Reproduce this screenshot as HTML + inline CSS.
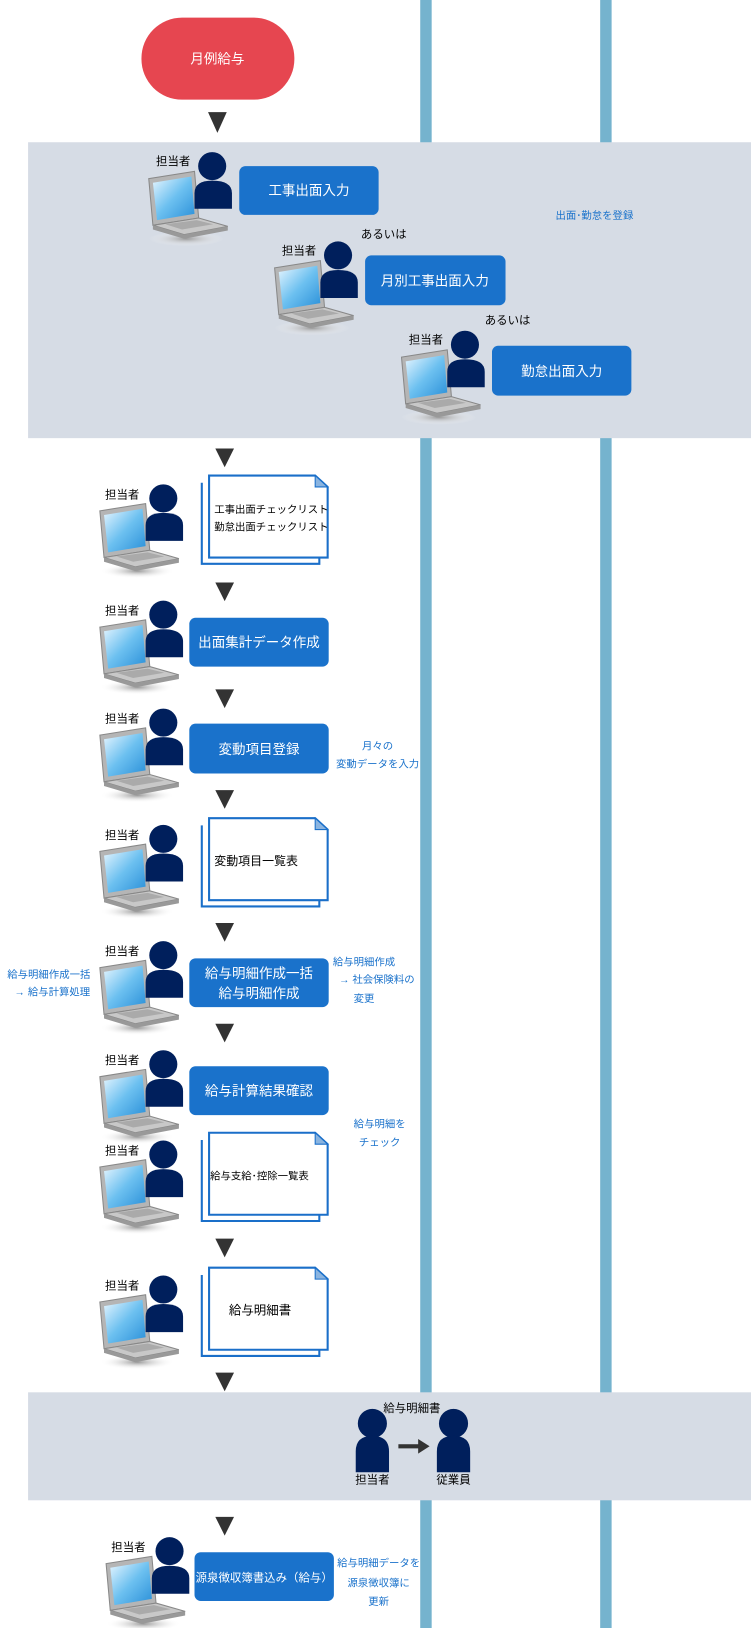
<!DOCTYPE html>
<html><head><meta charset="utf-8"><style>
html,body{margin:0;padding:0;background:#fff}
svg{display:block}
text{font-family:"Liberation Sans","Noto Sans CJK JP",sans-serif}
</style></head><body>
<svg width="751" height="1628" viewBox="0 0 722 1568" preserveAspectRatio="none" xmlns="http://www.w3.org/2000/svg">
<defs>
<linearGradient id="scr" x1="0" y1="0" x2="1" y2="1"><stop offset="0" stop-color="#e8f6ff"/><stop offset="0.5" stop-color="#6cc0f0"/><stop offset="1" stop-color="#2a8fd8"/></linearGradient>
<radialGradient id="sh"><stop offset="0" stop-color="#999"/><stop offset="1" stop-color="#fff" stop-opacity="0"/></radialGradient>
<symbol id="ic" viewBox="0 0 90 95" width="90" height="95" overflow="visible">
<ellipse cx="36" cy="82" rx="36" ry="7" fill="url(#sh)"/>
<polygon points="0,24 44,17 48,62 4,69" fill="#b5b5b5" stroke="#888" stroke-width="1"/>
<polygon points="4,28 41,22 44,58 8,64" fill="url(#scr)"/>
<polygon points="4,69 48,62 76,70 34,78" fill="#c8c8c8" stroke="#888" stroke-width="1"/>
<polygon points="34,78 76,70 76,74 34,82 4,73 4,69" fill="#999"/>
<polygon points="16,68 46,64 62,68 32,73" fill="#aaa"/>
<circle cx="61" cy="12" r="13.5" fill="#001f5c"/>
<path d="M44,53 L44,38 Q44,26 61,26 Q80,26 80,38 L80,53 Z" fill="#001f5c"/>
</symbol>
<symbol id="doc" viewBox="0 0 124 88" width="124" height="88" overflow="visible">
<polyline points="1,8 1,86 114,86 114,80" fill="none" stroke="#1a6fc9" stroke-width="2"/>
<path d="M8,1 L110,1 L122,12 L122,80 L8,80 Z" fill="#fff" stroke="#1a6fc9" stroke-width="2"/>
<path d="M110,1 L122,12 L110,12 Z" fill="#8ab4e0" stroke="#1a6fc9" stroke-width="1"/>
</symbol>
</defs>
<rect x="404" y="0" width="11" height="1568" fill="#75b3ce"/>
<rect x="577" y="0" width="11" height="1568" fill="#75b3ce"/>
<rect x="27" y="137" width="695" height="285" fill="#d6dce5"/>
<rect x="27" y="1341" width="695" height="104" fill="#d6dce5"/>
<rect x="136" y="17" width="147" height="79" rx="39" fill="#e64650"/>
<text x="209" y="61" font-size="13" fill="#fff" text-anchor="middle">月例給与</text>
<g fill="#333">
<polygon points="200,108 218,108 209,128"/>
<polygon points="207,432 225,432 216,450"/>
<polygon points="207,561 225,561 216,579"/>
<polygon points="207,664 225,664 216,682"/>
<polygon points="207,761 225,761 216,779"/>
<polygon points="207,889 225,889 216,907"/>
<polygon points="207,986 225,986 216,1004"/>
<polygon points="207,1193 225,1193 216,1211"/>
<polygon points="207,1322 225,1322 216,1340"/>
<polygon points="207,1461 225,1461 216,1479"/>
</g>
<g font-size="11" fill="#000">
<use href="#ic" x="143" y="148"/><text x="150" y="159">担当者</text>
<use href="#ic" x="264" y="234"/><text x="271" y="245">担当者</text>
<use href="#ic" x="386" y="320"/><text x="393" y="331">担当者</text>
<text x="347" y="229">あるいは</text><text x="466" y="312">あるいは</text>
<use href="#ic" x="96" y="468"/><text x="101" y="480">担当者</text>
<use href="#ic" x="96" y="580"/><text x="101" y="592">担当者</text>
<use href="#ic" x="96" y="684"/><text x="101" y="696">担当者</text>
<use href="#ic" x="96" y="796"/><text x="101" y="808">担当者</text>
<use href="#ic" x="96" y="908"/><text x="101" y="920">担当者</text>
<use href="#ic" x="96" y="1013"/><text x="101" y="1025">担当者</text>
<use href="#ic" x="96" y="1100"/><text x="101" y="1112">担当者</text>
<use href="#ic" x="96" y="1230"/><text x="101" y="1242">担当者</text>
<use href="#ic" x="102" y="1482"/><text x="107" y="1494">担当者</text>
</g>
<g fill="#1a72cb">
<rect x="230" y="160" width="134" height="47" rx="6"/>
<rect x="351" y="246" width="135" height="48" rx="6"/>
<rect x="473" y="333" width="134" height="48" rx="6"/>
<rect x="182" y="595" width="134" height="47" rx="6"/>
<rect x="182" y="697" width="134" height="48" rx="6"/>
<rect x="182" y="923" width="134" height="47" rx="6"/>
<rect x="182" y="1027" width="134" height="47" rx="6"/>
<rect x="187" y="1495" width="134" height="47" rx="6"/>
</g>
<g font-size="13" fill="#fff" text-anchor="middle">
<text x="297" y="188">工事出面入力</text>
<text x="418" y="275">月別工事出面入力</text>
<text x="540" y="362">勤怠出面入力</text>
<text x="249" y="623">出面集計データ作成</text>
<text x="249" y="726">変動項目登録</text>
<text x="249" y="942">給与明細作成一括</text>
<text x="249" y="961">給与明細作成</text>
<text x="249" y="1055">給与計算結果確認</text>
<text x="254" y="1523" font-size="11">源泉徴収簿書込み（給与）</text>
</g>
<use href="#doc" x="193" y="457"/>
<use href="#doc" x="193" y="787"/>
<use href="#doc" x="193" y="1090"/>
<use href="#doc" x="193" y="1220"/>
<g font-size="10" fill="#000">
<text x="206" y="494">工事出面チェックリスト</text>
<text x="206" y="511">勤怠出面チェックリスト</text>
<text x="206" y="833" font-size="11.5">変動項目一覧表</text>
<text x="202" y="1136">給与支給･控除一覧表</text>
<text x="220" y="1266" font-size="12">給与明細書</text>
</g>
<g font-size="10" fill="#1a72cb">
<text x="534" y="211">出面･勤怠を登録</text>
<text x="363" y="722" text-anchor="middle">月々の</text>
<text x="363" y="739" text-anchor="middle">変動データを入力</text>
<text x="7" y="942">給与明細作成一括</text>
<text x="14" y="959">→ 給与計算処理</text>
<text x="320" y="930">給与明細作成</text>
<text x="326" y="947">→ 社会保険料の</text>
<text x="340" y="965">変更</text>
<text x="365" y="1086" text-anchor="middle">給与明細を</text>
<text x="365" y="1104" text-anchor="middle">チェック</text>
<text x="364" y="1509" text-anchor="middle">給与明細データを</text>
<text x="364" y="1528" text-anchor="middle">源泉徴収簿に</text>
<text x="364" y="1546" text-anchor="middle">更新</text>
</g>
<g fill="#001f5c">
<ellipse cx="358" cy="1371" rx="14" ry="14"/>
<path d="M342,1418 L342,1398 Q342,1383 358,1383 Q374,1383 374,1398 L374,1418 Z"/>
<ellipse cx="436" cy="1371" rx="14" ry="14"/>
<path d="M420,1418 L420,1398 Q420,1383 436,1383 Q452,1383 452,1398 L452,1418 Z"/>
</g>
<rect x="383" y="1391" width="20" height="4" fill="#333"/>
<polygon points="402,1386 413,1393 402,1400" fill="#333"/>
<g font-size="11" fill="#000" text-anchor="middle">
<text x="396" y="1360">給与明細書</text>
<text x="358" y="1429">担当者</text>
<text x="436" y="1429">従業員</text>
</g>
</svg>
</body></html>
